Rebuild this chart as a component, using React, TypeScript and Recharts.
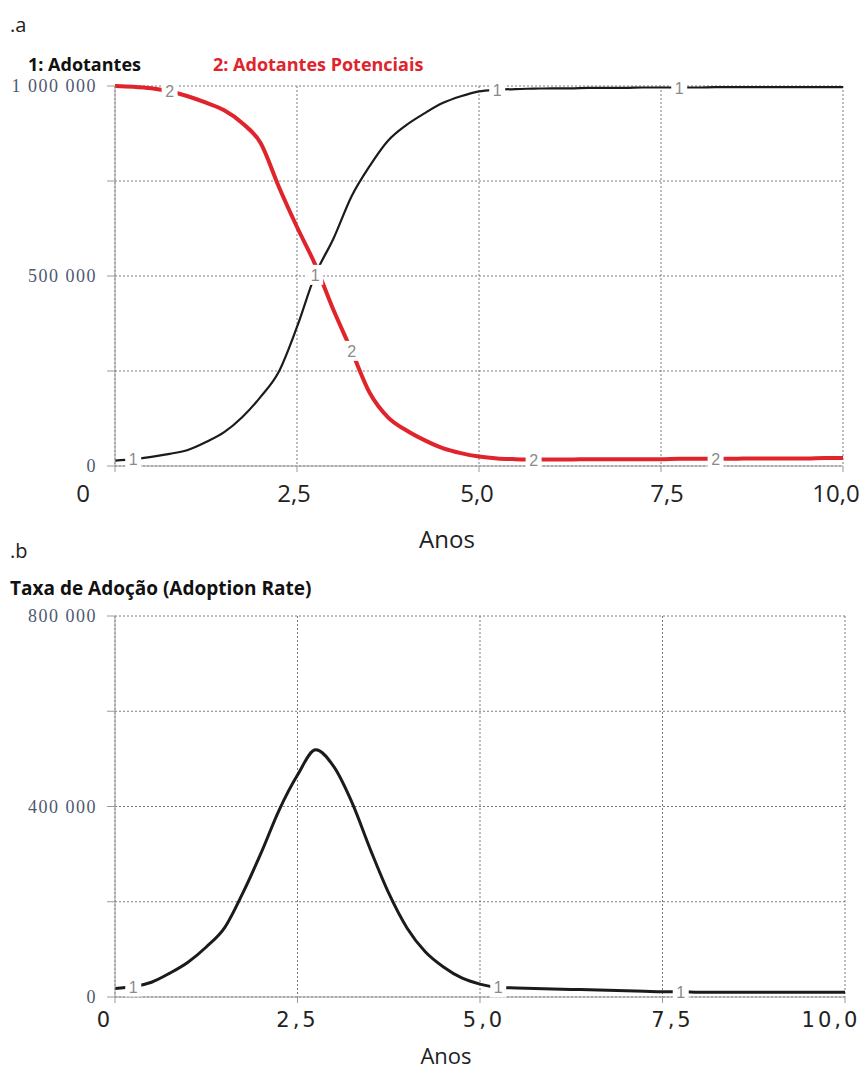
import React from "react";
import { CartesianGrid, Line, LineChart, XAxis, YAxis } from "recharts";

// tempo da simulacao (anos)
const anos = [
  0, 0.25, 0.5, 0.75, 1, 1.25, 1.5, 1.75, 2, 2.25, 2.5, 2.75, 3, 3.25, 3.5, 3.75, 4, 4.25, 4.5, 4.75, 5,
  5.25, 5.5, 5.75, 6, 6.25, 6.5, 6.75, 7, 7.25, 7.5, 7.75, 8, 8.25, 8.5, 8.75, 9, 9.25, 9.5, 9.75, 10,
];

// .a  1: Adotantes
const adotantes = [
  14000, 18000, 24000, 32000, 42000, 63000, 89000, 129000, 182000, 248000, 366000, 503000, 598000, 710000,
  790000, 856000, 897000, 928000, 955000, 973000, 986000, 990000, 992000, 993000, 994000, 994000, 995000,
  995000, 995000, 996000, 996000, 996000, 996000, 997000, 997000, 997000, 997000, 997000, 997000, 997000,
  997000,
];

// .a  2: Adotantes Potenciais
const potenciais = [
  1000000, 998000, 994000, 986000, 973000, 956000, 936000, 902000, 850000, 735000, 629000, 530000, 411000,
  303000, 192000, 128000, 94000, 68000, 47000, 34000, 25000, 20000, 18000, 17000, 17000, 17000, 18000, 18000,
  18000, 18000, 18000, 19000, 19000, 19000, 19000, 20000, 20000, 20000, 20000, 21000, 21000,
];

// .b  Taxa de Adocao
const taxaAdocao = [
  18000, 22000, 31000, 50000, 73000, 105000, 145000, 218000, 302000, 393000, 466000, 519000, 483000, 407000,
  309000, 218000, 145000, 95000, 63000, 40000, 27000, 20000, 19000, 18000, 17000, 16000, 15000, 14000, 13000,
  12000, 11000, 11000, 10000, 10000, 10000, 10000, 10000, 10000, 10000, 10000, 10000,
];

// rotulos dos eixos
const xTicks = [0, 2.5, 5, 7.5, 10];
const xTickLabels = ["0", "2,5", "5,0", "7,5", "10,0"];
const yTicksA = [0, 250000, 500000, 750000, 1000000];
const yTickLabelsA = ["0", "", "500 000", "", "1 000 000"];
const yTicksB = [0, 200000, 400000, 600000, 800000];
const yTickLabelsB = ["0", "", "400 000", "", "800 000"];

// onde aparecem os numeros das series sobre as curvas
const marcasAdotantes = [0.25, 2.75, 5.25, 7.75];
const marcasPotenciais = [0.75, 3.25, 5.75, 8.25];
const marcasTaxa = [0.25, 5.25, 7.75];

const dataA = anos.map((t, i) => ({ t, adotantes: adotantes[i], potenciais: potenciais[i] }));
const dataB = anos.map((t, i) => ({ t, taxa: taxaAdocao[i] }));

const RED = "#e0242c";
const GRID = "#7a7a7a";
const AXIS = "#9a9a9a";

const makeMarker = (marks: number[], label: string) => (props: any) => {
  const { cx, cy, payload, index } = props;
  if (!marks.includes(payload.t)) return <g key={`m-${index}`} />;
  return (
    <g key={`m-${index}`}>
      <rect x={cx - 8} y={cy - 10} width={16} height={20} fill="#fff" />
      <text x={cx} y={cy + 6} textAnchor="middle" fontSize={16} fill="#8a8a8a" fontFamily="Liberation Sans">
        {label}
      </text>
    </g>
  );
};

const makeXTick = (shift: number[], dy: number, font: any) => (props: any) => {
  const { x, y, index } = props;
  return (
    <text x={x + shift[index]} y={y + dy} textAnchor="middle" fill="#222" {...font}>
      {xTickLabels[index]}
    </text>
  );
};

const makeYTick = (labels: string[]) => (props: any) => {
  const { x, y, index } = props;
  return (
    <text
      x={x}
      y={y + 6}
      textAnchor="end"
      fill="#4f5870"
      fontSize={18}
      letterSpacing={1.5}
      fontFamily="Liberation Serif"
    >
      {labels[index]}
    </text>
  );
};

const textFont = "'Open Sans', sans-serif";

export default function App() {
  return (
    <div style={{ position: "absolute", left: 0, top: 0, width: 862, height: 1071, background: "#fff" }}>
      <div style={{ position: "absolute", left: 0, top: 0 }}>
        <LineChart width={862} height={560} data={dataA} margin={{ top: 86, right: 19, bottom: 34, left: 65 }}>
          <CartesianGrid stroke={GRID} strokeDasharray="2 2" />
          <XAxis
            dataKey="t"
            type="number"
            domain={[0, 10]}
            ticks={xTicks}
            height={60}
            stroke={AXIS}
            tickSize={6}
            tickMargin={0}
            tick={makeXTick([-32, -3, -2, 6, -7], 30, { fontSize: 24, fontFamily: textFont })}
          />
          <YAxis
            type="number"
            domain={[0, 1000000]}
            ticks={yTicksA}
            width={50}
            stroke={AXIS}
            tickSize={8}
            tickMargin={10}
            tick={makeYTick(yTickLabelsA)}
          />
          <Line
            dataKey="adotantes"
            type="monotone"
            stroke="#1b1b1b"
            strokeWidth={2.2}
            dot={makeMarker(marcasAdotantes, "1")}
            activeDot={false}
            isAnimationActive={false}
          />
          <Line
            dataKey="potenciais"
            type="monotone"
            stroke={RED}
            strokeWidth={4}
            dot={makeMarker(marcasPotenciais, "2")}
            activeDot={false}
            isAnimationActive={false}
          />
        </LineChart>
      </div>
      <div style={{ position: "absolute", left: 0, top: 560 }}>
        <LineChart width={862} height={511} data={dataB} margin={{ top: 56, right: 17, bottom: 14, left: 65 }}>
          <CartesianGrid stroke={GRID} strokeDasharray="2 2" />
          <XAxis
            dataKey="t"
            type="number"
            domain={[0, 10]}
            ticks={xTicks}
            height={60}
            stroke={AXIS}
            tickSize={6}
            tickMargin={0}
            tick={makeXTick([-10, 0, 4, 10, -14], 24, {
              fontSize: 21,
              letterSpacing: 3,
              fontFamily: "'DejaVu Sans', sans-serif",
            })}
          />
          <YAxis
            type="number"
            domain={[0, 800000]}
            ticks={yTicksB}
            width={50}
            stroke={AXIS}
            tickSize={8}
            tickMargin={10}
            tick={makeYTick(yTickLabelsB)}
          />
          <Line
            dataKey="taxa"
            type="monotone"
            stroke="#1b1b1b"
            strokeWidth={3}
            dot={makeMarker(marcasTaxa, "1")}
            activeDot={false}
            isAnimationActive={false}
          />
        </LineChart>
      </div>
      <svg
        width={862}
        height={1071}
        style={{ position: "absolute", left: 0, top: 0, pointerEvents: "none" }}
        fontFamily={textFont}
      >
        <text x={10} y={32} fontSize={20} fill="#222">.a</text>
        <text x={28} y={71} fontSize={18} fontWeight="bold" fill="#111">1: Adotantes</text>
        <text x={213} y={71} fontSize={18} fontWeight="bold" fill={RED}>2: Adotantes Potenciais</text>
        <text x={447} y={548} fontSize={24} textAnchor="middle" fill="#222">Anos</text>
        <text x={10} y={558} fontSize={20} fill="#222">.b</text>
        <text x={10} y={595} fontSize={19} fontWeight="bold" fill="#111">
          Taxa de Adoção (Adoption Rate)
        </text>
        <text x={446} y={1064} fontSize={22} textAnchor="middle" fill="#222">Anos</text>
      </svg>
    </div>
  );
}
